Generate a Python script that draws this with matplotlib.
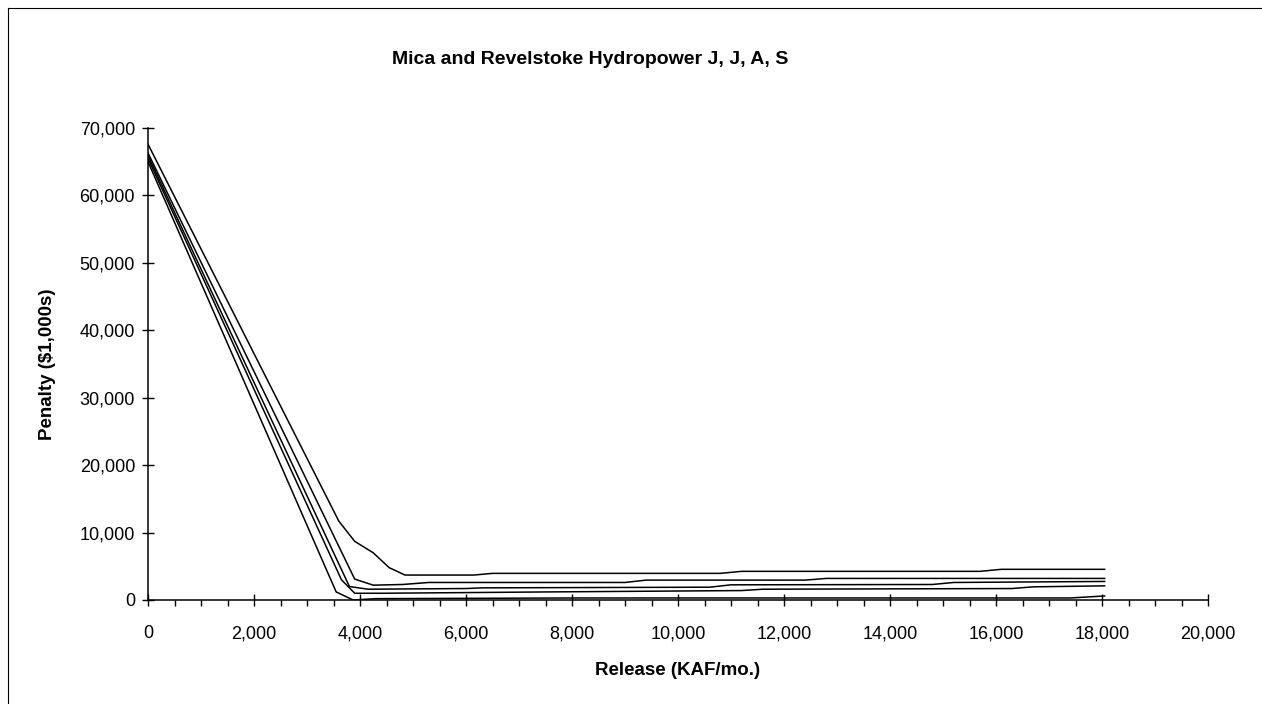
import matplotlib.pyplot as plt
from matplotlib.lines import Line2D
from matplotlib.ticker import MultipleLocator, FuncFormatter

plt.rcParams["font.family"] = ["Liberation Sans", "DejaVu Sans"]

# release (KAF/mo.) and penalty ($1,000s) for each curve
x1 = [0, 3600, 3900, 4250, 4550, 4850, 6150, 6500, 10800, 11200, 15700, 16100, 18050]
y1 = [67600, 11700, 8700, 7000, 4800, 3700, 3700, 3950, 3950, 4250, 4250, 4550, 4550]

x2 = [0, 3900, 4250, 4800, 5300, 9000, 9400, 12400, 12800, 18050]
y2 = [66300, 3100, 2200, 2300, 2600, 2600, 2950, 2950, 3200, 3200]

x3 = [0, 3800, 4150, 6000, 6300, 10600, 11000, 14800, 15200, 18050]
y3 = [65900, 2000, 1600, 1700, 1800, 1900, 2250, 2300, 2600, 2750]

x4 = [0, 3650, 3900, 4400, 6000, 7600, 11200, 11600, 16300, 16700, 18050]
y4 = [65500, 3000, 1000, 1000, 1100, 1200, 1400, 1600, 1700, 1950, 2100]

x5 = [0, 3550, 3870, 4300, 8000, 17400, 18050]
y5 = [65000, 1200, 0, 200, 300, 300, 600]

fig = plt.figure(figsize=(12.62, 7.04), dpi=100)
ax = fig.add_axes([148 / 1262, 104 / 704, 1060 / 1262, 472 / 704])

for xs, ys in [(x1, y1), (x2, y2), (x3, y3), (x4, y4), (x5, y5)]:
    ax.plot(xs, ys, color="black", lw=1.1)

ax.set_xlim(0, 20000)
ax.set_ylim(0, 70000)
ax.xaxis.set_major_locator(MultipleLocator(2000))
ax.xaxis.set_minor_locator(MultipleLocator(500))
ax.yaxis.set_major_locator(MultipleLocator(10000))
fmt = FuncFormatter(lambda v, p: f"{int(v):,}")
ax.xaxis.set_major_formatter(fmt)
ax.yaxis.set_major_formatter(fmt)

ax.spines["top"].set_visible(False)
ax.spines["right"].set_visible(False)
ax.spines["left"].set_linewidth(1.1)
ax.spines["bottom"].set_linewidth(1.1)

ax.tick_params(axis="both", which="major", direction="inout", length=8.6, width=1.0,
               labelsize=13)
ax.tick_params(axis="x", which="major", pad=14)
ax.tick_params(axis="y", which="major", pad=5)
ax.tick_params(axis="x", which="minor", direction="out", length=4.3, width=1.0)

ax.set_xlabel("Release (KAF/mo.)", fontsize=13.5, fontweight="bold", labelpad=14)
ax.set_ylabel("Penalty ($1,000s)", fontsize=13.5, fontweight="bold", labelpad=17)

fig.text(590 / 1262, 1 - 60 / 704, "Mica and Revelstoke Hydropower J, J, A, S",
         ha="center", va="center", fontsize=14, fontweight="bold")

# chart border
fig.add_artist(Line2D([8 / 1262, 8 / 1262], [0, 1 - 8 / 704], transform=fig.transFigure,
                      color="black", lw=0.8))
fig.add_artist(Line2D([8 / 1262, 1], [1 - 8 / 704, 1 - 8 / 704], transform=fig.transFigure,
                      color="black", lw=0.8))

fig.savefig("out.png", dpi=100)
